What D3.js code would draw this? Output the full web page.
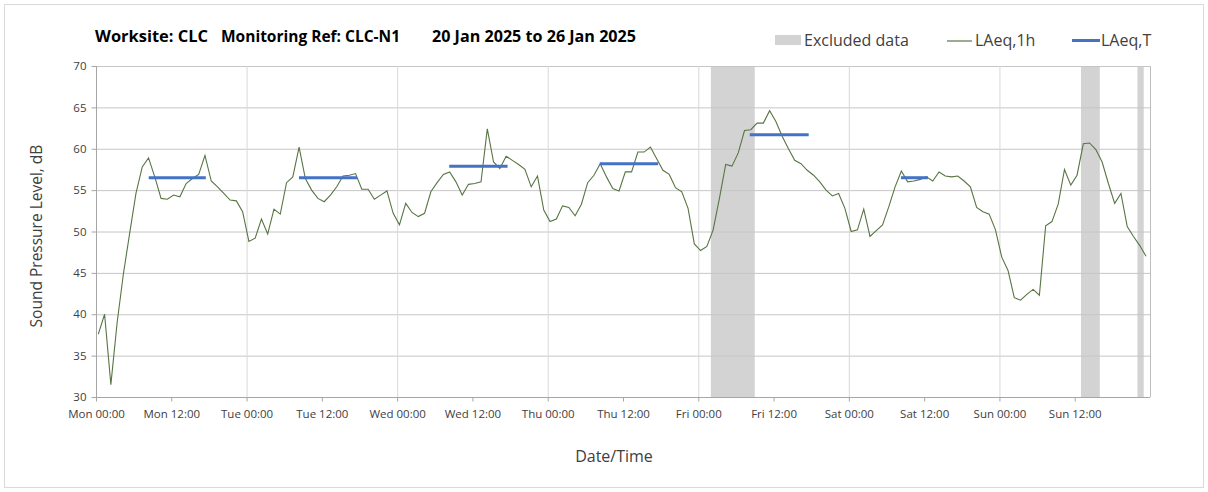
<!DOCTYPE html>
<html><head><meta charset="utf-8">
<script src="https://cdn.jsdelivr.net/npm/d3@7"></script>
<style>body{margin:0;background:#fff;} text{font-family:"Open Sans","Noto Sans",sans-serif;}</style>
</head><body><svg id="c" width="1208" height="492"></svg>
<script>
// hourly LAeq,1h values, starting Mon 20 Jan 2025 (hour offset 0.37)
const laeq1h = [37.6,40.0,31.5,39.0,44.9,49.8,54.6,57.8,58.9,56.6,54.0,53.9,54.4,54.2,55.8,56.4,56.9,59.2,56.1,55.4,54.6,53.8,53.7,52.4,
48.8,49.2,51.5,49.7,52.7,52.1,55.9,56.6,60.2,56.4,55.0,54.0,53.6,54.4,55.4,56.7,56.8,57.0,55.1,55.1,53.9,54.4,54.9,52.2,
50.8,53.4,52.3,51.8,52.2,54.8,55.9,56.9,57.2,56.0,54.4,55.7,55.8,56.0,62.4,58.4,57.6,59.1,58.6,58.1,57.5,55.4,56.7,52.6,
51.2,51.5,53.1,52.9,51.9,53.3,55.9,56.8,58.2,56.6,55.2,54.9,57.2,57.2,59.6,59.6,60.2,58.8,57.4,56.9,55.3,54.8,52.8,48.5,
47.7,48.2,50.2,54.0,58.1,57.9,59.5,62.2,62.3,63.1,63.1,64.6,63.3,61.5,60.0,58.6,58.2,57.4,56.8,56.0,55.0,54.3,54.6,52.8,
50.0,50.2,52.7,49.4,50.1,50.8,53.0,55.4,57.3,56.0,56.1,56.3,56.6,56.1,57.2,56.7,56.6,56.7,56.1,55.4,52.9,52.4,52.1,50.2,
46.9,45.3,42.0,41.7,42.4,43.0,42.3,50.7,51.2,53.3,57.5,55.6,56.8,60.6,60.7,59.9,58.4,55.8,53.4,54.6,50.6,49.4,48.3,47.0];
const hourOffset = 0.37;
// LAeq,T periods (hours from Mon 00:00)
const periodStart = [8.4, 32.35, 56.3, 80.3, 104.2, 128.3];
const periodEnd   = [17.5, 41.6, 65.6, 89.6, 113.6, 132.6];
const periodLevel = [56.5, 56.5, 57.9, 58.2, 61.7, 56.5];
// Excluded data ranges (hours from Mon 00:00)
const exclStart = [98, 157, 166];
const exclEnd   = [105, 160, 167];
const tickLabels = ["Mon 00:00","Mon 12:00","Tue 00:00","Tue 12:00","Wed 00:00","Wed 12:00","Thu 00:00","Thu 12:00","Fri 00:00","Fri 12:00","Sat 00:00","Sat 12:00","Sun 00:00","Sun 12:00"];
const yTicks = [30,35,40,45,50,55,60,65,70];
const titleParts = ["Worksite: CLC","Monitoring Ref: CLC-N1","20 Jan 2025 to 26 Jan 2025"];

const svg = d3.select("#c");
const L = 96, R = 1150, T = 66, B = 397;
const x = d3.scaleLinear().domain([0,168]).range([L,R]);
const y = d3.scaleLinear().domain([30,70]).range([B,T]);

svg.append("rect").attr("x",4.5).attr("y",4.5).attr("width",1199).attr("height",483)
  .attr("fill","none").attr("stroke","#d9d9d9");

// excluded
svg.append("g").selectAll("rect").data(exclStart).join("rect")
  .attr("x",(d)=>x(d)).attr("y",T).attr("width",(d,i)=>x(exclEnd[i])-x(d)).attr("height",B-T)
  .attr("fill","#d3d3d3");

// horizontal gridlines
svg.append("g").selectAll("line").data(yTicks.filter(v=>v>30)).join("line")
  .attr("x1",L).attr("x2",R).attr("y1",d=>y(d)+0.5).attr("y2",d=>y(d)+0.5)
  .attr("stroke","#c6c6c6").attr("stroke-width",1);
// vertical day gridlines
svg.append("g").selectAll("line").data(d3.range(24,168,24)).join("line")
  .attr("x1",d=>x(d)+0.5).attr("x2",d=>x(d)+0.5).attr("y1",T).attr("y2",B)
  .attr("stroke","#d9d9d9").attr("stroke-width",1);
// right border
svg.append("line").attr("x1",R+0.5).attr("x2",R+0.5).attr("y1",T).attr("y2",B).attr("stroke","#bdbdbd");

// axes
const xAxis = d3.axisBottom(x).tickValues(d3.range(0,168,12)).tickSize(4)
  .tickFormat((d,i)=>tickLabels[i]);
const gx = svg.append("g").attr("transform",`translate(0,${B+0.5})`).call(xAxis);
gx.select(".domain").attr("stroke","#a6a6a6").attr("d",`M${L},0H${R}`);
gx.selectAll(".tick line").attr("stroke","#a6a6a6");
gx.selectAll("text").attr("font-size",11.5).attr("fill","#404040").attr("dy","1.15em");

const yAxis = d3.axisLeft(y).tickValues(yTicks).tickSize(5);
const gy = svg.append("g").attr("transform",`translate(${L+0.5},0)`).call(yAxis);
gy.select(".domain").attr("stroke","#a6a6a6").attr("d",`M0,${T}V${B}`);
gy.selectAll(".tick line").attr("stroke","#a6a6a6");
gy.selectAll("text").attr("font-size",11.5).attr("fill","#404040").attr("x",-10);

// LAeq,1h line
const line = d3.line().x((d,i)=>x(i+hourOffset)).y(d=>y(d));
svg.append("path").datum(laeq1h).attr("d",line).attr("fill","none")
  .attr("stroke","#587544").attr("stroke-width",1.1);

// LAeq,T
svg.append("g").selectAll("line").data(periodLevel).join("line")
  .attr("x1",(d,i)=>x(periodStart[i])).attr("x2",(d,i)=>x(periodEnd[i]))
  .attr("y1",d=>y(d)).attr("y2",d=>y(d))
  .attr("stroke","#4472c4").attr("stroke-width",3);

// titles
const titleX = [95, 221, 432];
const titleW = [113, 179, 204];
svg.append("g").selectAll("text").data(titleParts).join("text")
  .attr("x",(d,i)=>titleX[i]).attr("y",42).attr("font-size",15.5).attr("font-weight","bold").attr("fill","#000")
  .attr("textLength",(d,i)=>titleW[i]).attr("lengthAdjust","spacingAndGlyphs").text(d=>d);
svg.append("text").attr("x",614).attr("y",462).attr("text-anchor","middle").attr("font-size",16).attr("fill","#404040").text("Date/Time");
svg.append("text").attr("transform","translate(42,236) rotate(-90)").attr("text-anchor","middle")
  .attr("font-size",15.5).attr("fill","#404040").text("Sound Pressure Level, dB");

// legend
const lg = svg.append("g");
lg.append("rect").attr("x",775).attr("y",35).attr("width",26).attr("height",10).attr("fill","#d3d3d3");
lg.append("text").attr("x",804).attr("y",46).attr("font-size",16).attr("fill","#404040").text("Excluded data");
lg.append("line").attr("x1",947).attr("x2",972).attr("y1",41).attr("y2",41).attr("stroke","#587544").attr("stroke-width",1.2);
lg.append("text").attr("x",975).attr("y",46).attr("font-size",16).attr("fill","#404040").text("LAeq,1h");
lg.append("line").attr("x1",1072).attr("x2",1100).attr("y1",40.5).attr("y2",40.5).attr("stroke","#4472c4").attr("stroke-width",3);
lg.append("text").attr("x",1101).attr("y",46).attr("font-size",16).attr("fill","#404040").text("LAeq,T");
</script></body></html>
